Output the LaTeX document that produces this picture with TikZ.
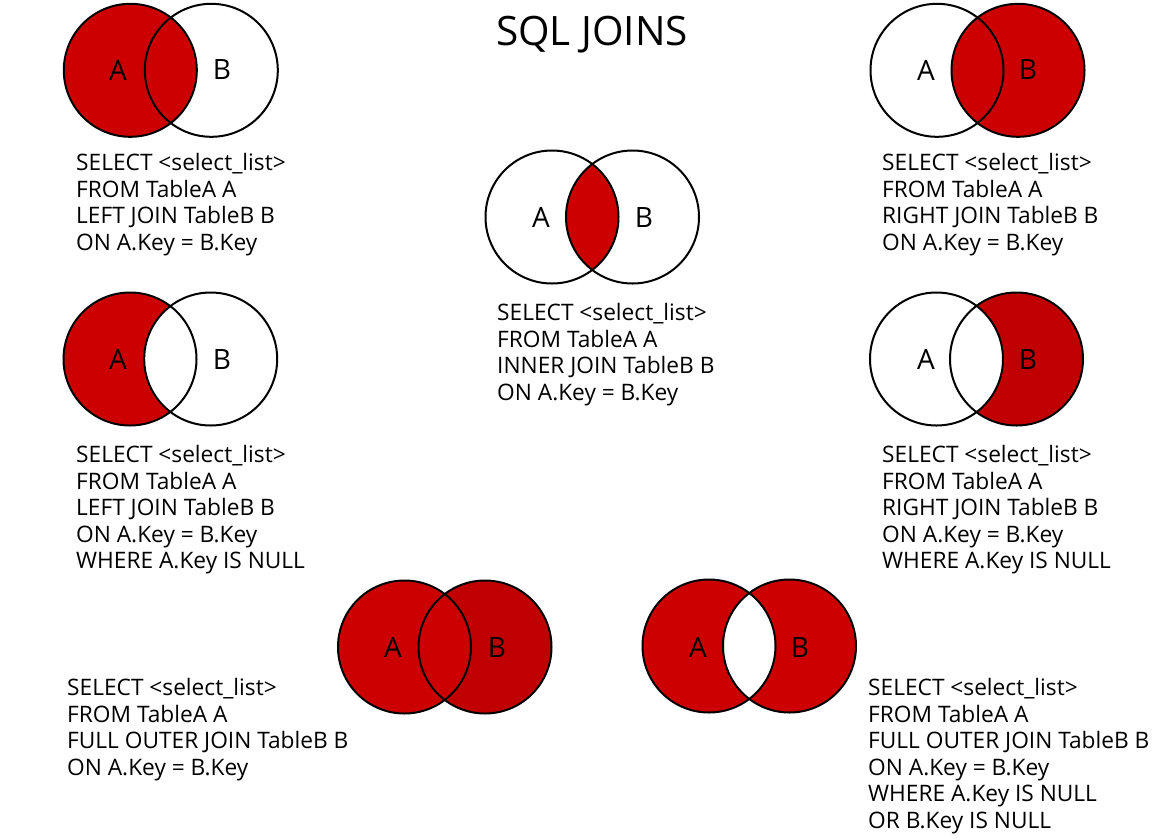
\documentclass[tikz,border=0pt]{standalone}
\usepackage{fontspec}
\setmainfont{Open Sans}
\definecolor{redA}{HTML}{CC0000}
\definecolor{redB}{HTML}{C00000}
\newcommand{\codefnt}{\fontsize{22.7}{26.6}\selectfont}
\newcommand{\labfnt}{\fontsize{28}{30}\selectfont}
\newcommand{\titlefnt}{\fontsize{40.5}{46}\selectfont}
\tikzset{
  vc/.style={circle, draw=black, line width=2pt, minimum size=133pt, inner sep=0pt, outer sep=0pt},
  lab/.style={font=\labfnt, inner sep=0pt},
  code/.style={anchor=north west, align=left, inner sep=0pt, font=\codefnt},
}
\begin{document}
\begin{tikzpicture}[x=1pt,y=-1pt]
\useasboundingbox (0,0) rectangle (1171,839);
\fill[white] (0,0) rectangle (1171,839);

\node[font=\titlefnt, inner sep=0pt] (title) at (592,35) {SQL JOINS};

% 1 LEFT JOIN
\fill[redA] (130.3,70.3) circle[radius=66.5];
\node[vc] (l1a) at (130.3,70.3) {};
\node[vc] (l1b) at (211.3,70.3) {};
\node[lab] (l1A) at (118,70) {A};
\node[lab] (l1B) at (222,70) {B};
\node[code] (t1) at (76,153) {SELECT <select\_list>\\FROM TableA A\\LEFT JOIN TableB B\\ON A.Key = B.Key};

% 2 INNER JOIN
\begin{scope}
\clip (552,217) circle[radius=66.5];
\fill[redA] (632.5,217) circle[radius=66.5];
\end{scope}
\node[vc] (i2a) at (552,217) {};
\node[vc] (i2b) at (632.5,217) {};
\node[lab] (i2A) at (541,217) {A};
\node[lab] (i2B) at (644,217) {B};
\node[code] (t2) at (497,303) {SELECT <select\_list>\\FROM TableA A\\INNER JOIN TableB B\\ON A.Key = B.Key};

% 3 RIGHT JOIN
\fill[redA] (1018,70.3) circle[radius=66.5];
\node[vc] (r3a) at (937,70.3) {};
\node[vc] (r3b) at (1018,70.3) {};
\node[lab] (r3A) at (926,70) {A};
\node[lab] (r3B) at (1028,70) {B};
\node[code] (t3) at (882,153) {SELECT <select\_list>\\FROM TableA A\\RIGHT JOIN TableB B\\ON A.Key = B.Key};

% 4 LEFT ONLY
\fill[redA] (130,359) circle[radius=66.5];
\begin{scope}
\clip (130,359) circle[radius=66.5];
\fill[white] (210.7,359) circle[radius=66.5];
\end{scope}
\node[vc] (l4a) at (130,359) {};
\node[vc] (l4b) at (210.7,359) {};
\node[lab] (l4A) at (118,359) {A};
\node[lab] (l4B) at (222,359) {B};
\node[code] (t4) at (76,445) {SELECT <select\_list>\\FROM TableA A\\LEFT JOIN TableB B\\ON A.Key = B.Key\\WHERE A.Key IS NULL};

% 5 RIGHT ONLY
\fill[redB] (1016.5,359) circle[radius=66.5];
\begin{scope}
\clip (1016.5,359) circle[radius=66.5];
\fill[white] (936.5,359) circle[radius=66.5];
\end{scope}
\node[vc] (r5a) at (936.5,359) {};
\node[vc] (r5b) at (1016.5,359) {};
\node[lab] (r5A) at (926,359) {A};
\node[lab] (r5B) at (1028,359) {B};
\node[code] (t5) at (882,445) {SELECT <select\_list>\\FROM TableA A\\RIGHT JOIN TableB B\\ON A.Key = B.Key\\WHERE A.Key IS NULL};

% 6 FULL OUTER
\fill[redB] (485,647) circle[radius=66.5];
\fill[redA] (404.5,647) circle[radius=66.5];
\node[vc] (f6a) at (404.5,647) {};
\node[vc] (f6b) at (485,647) {};
\node[lab] (f6A) at (393,647) {A};
\node[lab] (f6B) at (497,647) {B};
\node[code] (t6) at (67,678) {SELECT <select\_list>\\FROM TableA A\\FULL OUTER JOIN TableB B\\ON A.Key = B.Key};

% 7 FULL OUTER EXCLUDING
\fill[redA] (709,646) circle[radius=66.5];
\fill[redA] (789.5,646) circle[radius=66.5];
\begin{scope}
\clip (709,646) circle[radius=66.5];
\fill[white] (789.5,646) circle[radius=66.5];
\end{scope}
\node[vc] (x7a) at (709,646) {};
\node[vc] (x7b) at (789.5,646) {};
\node[lab] (x7A) at (698,647) {A};
\node[lab] (x7B) at (800,647) {B};
\node[code] (t7) at (868,678) {SELECT <select\_list>\\FROM TableA A\\FULL OUTER JOIN TableB B\\ON A.Key = B.Key\\WHERE A.Key IS NULL\\OR B.Key IS NULL};
\end{tikzpicture}
\end{document}
